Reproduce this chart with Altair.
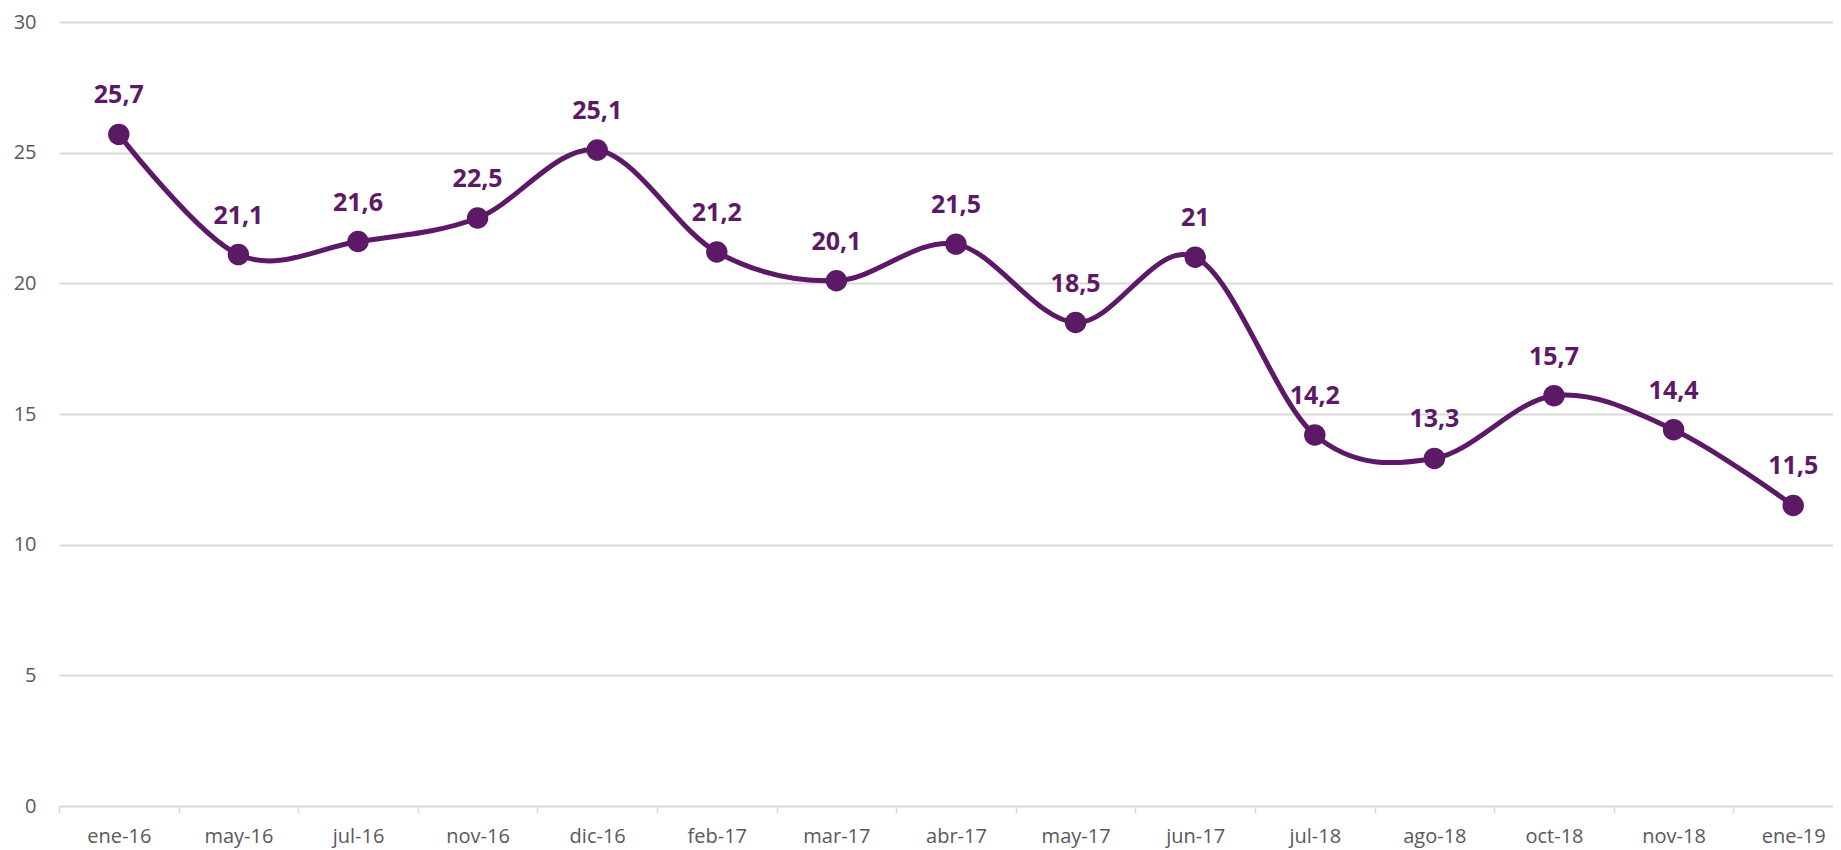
import altair as alt
import pandas as pd

categories = ["ene-16", "may-16", "jul-16", "nov-16", "dic-16", "feb-17", "mar-17",
              "abr-17", "may-17", "jun-17", "jul-18", "ago-18", "oct-18", "nov-18", "ene-19"]
values = [25.7, 21.1, 21.6, 22.5, 25.1, 21.2, 20.1, 21.5, 18.5, 21.0, 14.2, 13.3, 15.7, 14.4, 11.5]
y_ticks = [0, 5, 10, 15, 20, 25, 30]

df = pd.DataFrame({"cat": categories, "v": values})

PURPLE = "#5C1966"
GRID = "#D9D9D9"
FONT = "Open Sans"

x = alt.X("cat:N", sort=categories, bandPosition=0.5,
          scale=alt.Scale(type="band", paddingInner=0, paddingOuter=0, range=[0, 1794]),
          axis=alt.Axis(title=None, labelAngle=0, domain=False, grid=False,
                        ticks=True, tickBand="extent", tickColor=GRID, tickWidth=1.5,
                        tickSize=7, labelPadding=13, labelFont=FONT, labelFontSize=20,
                        labelColor="#595959", labelBaseline="top"))
y = alt.Y("v:Q", scale=alt.Scale(domain=[0, 30], nice=False, zero=True),
          axis=alt.Axis(title=None, values=y_ticks, domain=False, ticks=False, tickSize=0,
                        grid=True, gridColor=GRID, gridWidth=1.8, labelPadding=23,
                        labelFont=FONT, labelFontSize=20, labelColor="#595959"))

base = alt.Chart(df).encode(x=x, y=y)

line = base.mark_line(color=PURPLE, strokeWidth=5, interpolate="cardinal", tension=0)
points = base.mark_point(filled=True, color=PURPLE, size=460, opacity=1)
labels = base.transform_calculate(
    lab="replace(format(datum.v, ''), '.', ',')"
).mark_text(font=FONT, fontSize=25, fontWeight="bold", color=PURPLE,
            baseline="alphabetic", dy=-31).encode(text="lab:N")

chart = (line + points + labels).properties(
    width=1774, height=784,
    autosize=alt.AutoSizeParams(type="none"),
    padding={"left": 51, "top": 14, "right": 0, "bottom": 50},
).configure_view(stroke=None)

chart.save("out.html", embed_options={"renderer": "svg", "actions": False})
